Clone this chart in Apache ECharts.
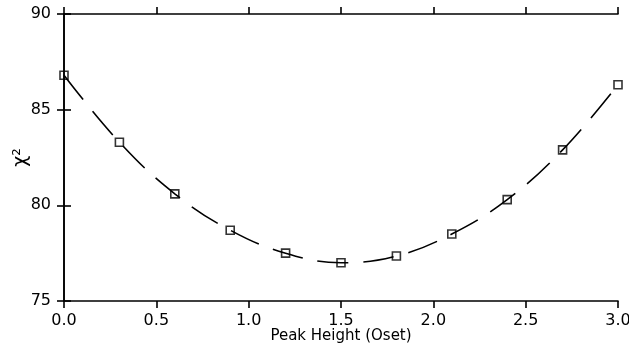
<!DOCTYPE html>
<html>
<head>
<meta charset="utf-8">
<script src="https://cdn.jsdelivr.net/npm/echarts@6/dist/echarts.min.js"></script>
<style>
  html, body { margin: 0; padding: 0; background: #fff; }
  #chart { width: 629px; height: 349px; }
</style>
</head>
<body>
<div id="chart"></div>
<script>
// peak height (Oset) and chi-square
const peakHeight = [0.0, 0.3, 0.6, 0.9, 1.2, 1.5, 1.8, 2.1, 2.4, 2.7, 3.0];
const chiSquare = [86.8, 83.3, 80.6, 78.7, 77.5, 77.0, 77.35, 78.5, 80.3, 82.9, 86.3];

const points = peakHeight.map((x, i) => [x, chiSquare[i]]);

const FONT = 'DejaVu Sans';
const axisLine = { show: true, lineStyle: { color: '#000', width: 1.6 } };
const axisTick = { show: true, inside: false, length: 7, lineStyle: { color: '#000', width: 1.6 } };

const chart = echarts.init(document.getElementById('chart'));
chart.setOption({
  backgroundColor: '#fff',
  animation: false,
  grid: { left: 64, right: 11, top: 14, bottom: 48, containLabel: false, outerBoundsMode: 'none' },
  xAxis: [
    {
      type: 'value',
      min: 0,
      max: 3,
      interval: 0.5,
      name: 'Peak Height (Oset)',
      nameLocation: 'middle',
      nameGap: 28,
      nameMoveOverlap: false,
      nameTextStyle: { color: '#000', fontFamily: FONT, fontSize: 15 },
      axisLine,
      axisTick,
      splitLine: { show: false },
      axisLabel: {
        color: '#000',
        fontFamily: FONT,
        fontSize: 16,
        margin: 12,
        formatter: (v) => v.toFixed(1),
      },
    },
    {
      type: 'value',
      position: 'top',
      min: 0,
      max: 3,
      interval: 0.5,
      axisLine,
      axisTick,
      splitLine: { show: false },
      axisLabel: { show: false },
    },
  ],
  yAxis: [
    {
      type: 'value',
      min: 75,
      max: 90,
      interval: 5,
      name: 'χ²',
      nameLocation: 'middle',
      nameGap: 33,
      nameMoveOverlap: false,
      nameTextStyle: { color: '#000', fontFamily: FONT, fontSize: 19 },
      axisLine,
      axisTick,
      splitLine: { show: false },
      axisLabel: { color: '#000', fontFamily: FONT, fontSize: 16, margin: 13 },
    },
    {
      type: 'value',
      position: 'right',
      min: 75,
      max: 90,
      interval: 5,
      axisLine,
      axisTick,
      splitLine: { show: false },
      axisLabel: { show: false },
    },
  ],
  series: [
    {
      // 拟合曲线
      type: 'line',
      data: points,
      smooth: 0.4,
      symbol: 'none',
      lineStyle: { color: '#000', width: 1.6, type: [31, 15] },
      z: 2,
    },
    {
      type: 'scatter',
      data: points,
      symbol: 'rect',
      symbolSize: 8,
      itemStyle: { color: 'rgba(0,0,0,0)', borderColor: '#000', borderWidth: 1.6 },
      z: 3,
    },
  ],
});
</script>
</body>
</html>
